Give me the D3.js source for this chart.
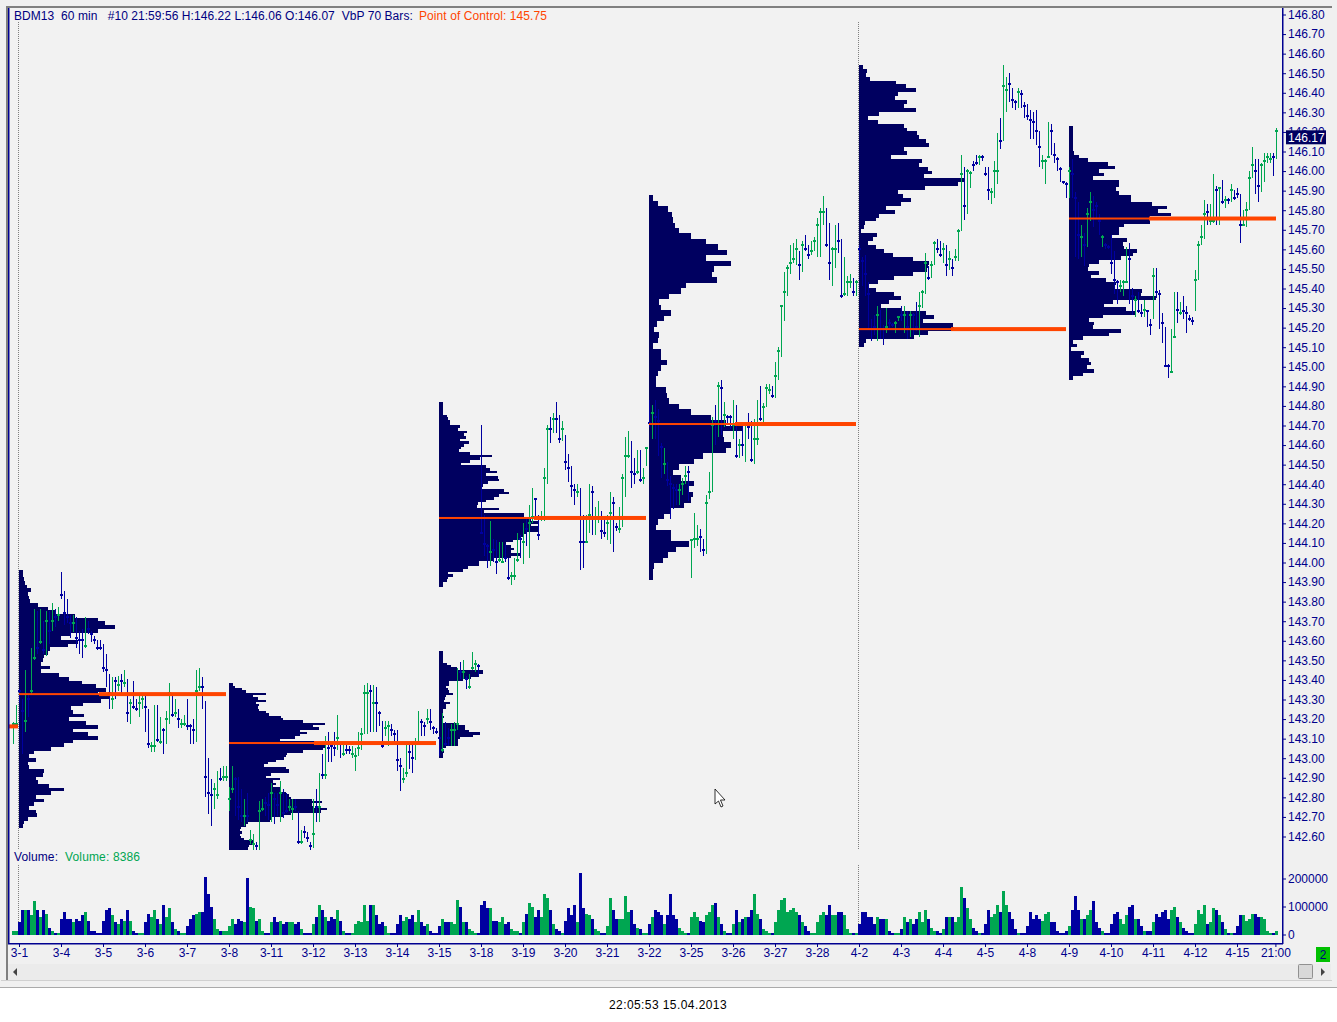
<!DOCTYPE html>
<html>
<head>
<meta charset="utf-8">
<script src="https://cdnjs.cloudflare.com/ajax/libs/d3/7.8.5/d3.min.js"></script>
<style>
body { margin: 0; background: #fff; }
text { font-family: "Liberation Sans", Arial, sans-serif; font-size: 12px; }
.axis text { fill: #00008c; }
.axis line { stroke: #00008c; }
.axis path { display: none; }
</style>
</head>
<body>
<script>
// Settings
var w = 1337;
var h = 1022;
var navy = "#000060";
var blue = "#0000a0";
var green = "#00a651";
var red = "#ff4500";

// one value per 60 min bar
var barHigh = [
143.18,143.27,143.35,143.30,143.45,143.32,143.56,143.76,143.75,143.76,
143.70,143.75,143.75,143.79,143.76,143.77,143.95,143.85,143.81,143.73,
143.73,143.72,143.65,143.66,143.72,143.70,143.65,143.62,143.60,143.60,
143.58,143.53,143.43,143.41,143.41,143.42,143.43,143.45,143.40,143.30,
143.39,143.30,143.32,143.33,143.33,143.25,143.08,143.27,143.27,143.21,
143.15,143.24,143.38,143.32,143.30,143.25,143.20,143.22,143.30,143.17,
143.20,143.45,143.46,143.41,143.29,143.00,142.89,142.87,142.93,142.95,
142.96,142.96,142.85,142.96,142.90,142.90,142.84,142.79,142.82,142.63,
142.61,142.57,142.78,142.79,142.80,142.82,142.87,142.82,142.82,142.88,
142.84,142.82,142.79,142.79,142.79,142.73,142.63,142.65,142.62,142.57,
142.79,142.84,142.92,143.02,143.11,143.13,143.08,143.13,143.22,143.08,
143.08,143.08,143.06,143.06,143.05,143.13,143.15,143.37,143.38,143.37,
143.37,143.36,143.24,143.19,143.19,143.19,143.17,143.14,143.14,143.00,
142.95,143.07,143.07,143.07,143.10,143.24,143.20,143.18,143.25,143.25,
143.16,143.15,143.11,143.23,143.18,143.15,143.17,143.18,143.46,143.49,
143.50,143.42,143.43,143.54,143.50,143.48,144.70,144.24,144.09,144.21,
144.12,144.11,144.10,144.10,144.09,144.02,143.95,144.02,144.15,144.14,
144.20,144.23,144.29,144.38,144.32,144.24,144.26,144.48,144.70,144.74,
144.76,144.82,144.75,144.72,144.65,144.55,144.49,144.40,144.40,144.38,
144.24,144.24,144.40,144.39,144.28,144.31,144.26,144.23,144.24,144.36,
144.33,144.20,144.28,144.45,144.64,144.67,144.62,144.53,144.57,144.57,
144.48,144.59,144.83,144.80,144.83,144.78,144.61,144.58,144.51,144.44,
144.40,144.40,144.40,144.43,144.49,144.49,144.12,144.25,144.19,144.17,
144.12,144.34,144.46,144.74,144.80,144.92,144.93,144.82,144.75,144.75,
144.83,144.80,144.63,144.70,144.71,144.76,144.72,144.73,144.83,144.90,
144.81,144.91,144.91,144.90,145.02,145.10,145.31,145.48,145.52,145.62,
145.63,145.65,145.59,145.64,145.67,145.62,145.64,145.66,145.76,145.81,
145.87,145.81,145.73,145.61,145.72,145.73,145.65,145.56,145.46,145.47,
145.45,145.44,145.62,145.56,145.57,145.43,145.24,145.26,145.31,145.29,
145.21,145.30,145.24,145.22,145.23,145.25,145.31,145.31,145.28,145.28,
145.27,145.33,145.38,145.39,145.58,145.51,145.54,145.64,145.65,145.64,
145.63,145.62,145.59,145.55,145.60,145.70,146.08,146.02,146.01,146.00,
146.05,146.08,146.08,146.08,146.02,146.02,145.91,146.05,146.19,146.27,
146.54,146.48,146.50,146.42,146.36,146.42,146.41,146.35,146.34,146.31,
146.30,146.31,146.20,146.08,146.06,146.25,146.24,146.14,146.07,146.02,
145.94,145.94,146.02,146.06,145.89,145.84,145.72,145.68,145.81,145.89,
145.87,145.84,145.78,145.67,145.63,145.62,145.67,145.59,145.44,145.44,
145.44,145.61,145.63,145.40,145.36,145.38,145.32,145.34,145.29,145.24,
145.50,145.50,145.39,145.27,145.20,145.01,145.19,145.38,145.38,145.33,
145.36,145.31,145.26,145.25,145.49,145.64,145.72,145.85,145.83,145.83,
145.98,145.92,145.91,145.95,145.87,145.86,145.93,145.90,145.91,145.88,
145.80,145.84,146.00,146.12,146.06,146.06,146.04,146.09,146.09,146.09,
146.09,146.22];

var barLow = [
143.07,143.16,143.28,143.02,143.13,143.21,143.32,143.50,143.53,143.58,
143.53,143.52,143.58,143.65,143.67,143.70,143.81,143.68,143.69,143.61,
143.64,143.56,143.53,143.51,143.56,143.63,143.59,143.58,143.55,143.55,
143.44,143.36,143.25,143.25,143.30,143.34,143.32,143.36,143.18,143.17,
143.25,143.24,143.21,143.25,143.13,143.05,143.03,143.03,143.08,143.07,
143.02,143.07,143.17,143.21,143.21,143.15,143.15,143.16,143.14,143.07,
143.07,143.08,143.34,143.25,142.80,142.71,142.65,142.74,142.79,142.88,
142.88,142.88,142.73,142.82,142.70,142.68,142.67,142.65,142.67,142.56,
142.53,142.53,142.53,142.73,142.70,142.68,142.67,142.66,142.70,142.67,
142.69,142.72,142.73,142.68,142.73,142.56,142.56,142.59,142.57,142.53,
142.54,142.67,142.67,142.89,142.89,142.98,142.98,143.01,143.04,143.00,
143.01,143.02,143.02,143.00,142.93,143.01,143.04,143.12,143.12,143.13,
143.13,143.13,143.16,143.05,143.11,143.06,143.11,143.07,142.93,142.83,
142.87,142.90,142.94,142.92,142.99,143.07,143.11,143.11,143.17,143.14,
143.12,143.12,143.01,143.03,143.06,143.06,143.06,143.06,143.14,143.40,
143.40,143.35,143.35,143.45,143.44,143.42,144.15,144.03,143.97,143.98,
144.00,143.94,144.00,144.00,144.00,143.91,143.88,143.91,144.00,144.02,
143.99,144.08,144.02,144.20,144.22,144.11,144.21,144.21,144.40,144.61,
144.66,144.66,144.61,144.62,144.47,144.41,144.33,144.29,144.33,143.96,
143.97,144.10,144.15,144.14,144.14,144.20,144.12,144.13,144.11,144.09,
144.05,144.16,144.15,144.18,144.33,144.53,144.38,144.40,144.45,144.41,
144.40,144.49,144.69,144.63,144.63,144.54,144.43,144.45,144.39,144.22,
144.27,144.29,144.29,144.34,144.40,144.31,143.92,144.07,144.08,144.05,
144.03,144.04,144.32,144.36,144.60,144.64,144.65,144.69,144.71,144.68,
144.63,144.53,144.53,144.54,144.51,144.63,144.51,144.50,144.60,144.72,
144.71,144.79,144.86,144.84,144.84,144.93,145.05,145.23,145.36,145.47,
145.53,145.52,145.44,145.48,145.59,145.55,145.57,145.59,145.56,145.56,
145.72,145.61,145.44,145.41,145.50,145.58,145.35,145.36,145.36,145.40,
145.36,145.36,145.53,145.41,145.36,145.19,145.13,145.16,145.13,145.14,
145.11,145.17,145.19,145.20,145.17,145.23,145.23,145.17,145.14,145.15,
145.16,145.18,145.15,145.30,145.37,145.44,145.45,145.52,145.58,145.56,
145.53,145.46,145.49,145.46,145.54,145.54,145.69,145.75,145.78,145.91,
146.00,146.03,146.03,146.05,145.97,145.85,145.83,145.86,145.93,146.11,
146.15,146.30,146.35,146.32,146.31,146.32,146.32,146.27,146.26,146.16,
146.16,146.13,146.02,146.01,145.93,146.07,146.08,146.04,146.00,145.94,
145.93,145.86,145.86,145.86,145.56,145.55,145.56,145.51,145.61,145.74,
145.71,145.76,145.67,145.61,145.60,145.60,145.47,145.37,145.32,145.38,
145.36,145.43,145.32,145.26,145.25,145.27,145.25,145.25,145.20,145.16,
145.24,145.35,145.19,145.12,145.00,144.94,144.97,145.15,145.22,145.26,
145.24,145.17,145.23,145.21,145.28,145.44,145.62,145.65,145.72,145.72,
145.73,145.72,145.72,145.83,145.81,145.83,145.84,145.85,145.86,145.63,
145.72,145.71,145.80,145.96,145.88,145.84,145.89,145.94,146.04,146.04,
145.97,146.06];

var barClose = [
143.17,143.17,143.34,143.24,143.19,143.30,143.34,143.51,143.56,143.59,
143.55,143.70,143.65,143.70,143.72,143.73,143.83,143.74,143.72,143.69,
143.69,143.61,143.60,143.60,143.57,143.66,143.63,143.60,143.56,143.56,
143.46,143.45,143.33,143.30,143.39,143.37,143.39,143.38,143.23,143.28,
143.26,143.25,143.28,143.30,143.26,143.07,143.06,143.06,143.09,143.08,
143.14,143.20,143.33,143.22,143.23,143.20,143.17,143.17,143.16,143.16,
143.14,143.34,143.36,143.36,142.90,142.82,142.81,142.84,142.81,142.89,
142.90,142.90,142.79,142.84,142.89,142.75,142.70,142.70,142.70,142.58,
142.56,142.55,142.73,142.74,142.77,142.76,142.82,142.79,142.76,142.82,
142.72,142.73,142.75,142.74,142.75,142.57,142.57,142.62,142.59,142.55,
142.61,142.75,142.75,142.91,142.91,143.05,143.06,143.05,143.10,143.07,
143.02,143.04,143.04,143.02,143.01,143.05,143.12,143.33,143.33,143.34,
143.28,143.28,143.23,143.06,143.15,143.16,143.14,143.12,142.99,142.96,
142.89,142.92,143.03,143.00,143.07,143.08,143.18,143.16,143.20,143.18,
143.15,143.13,143.10,143.04,143.07,143.10,143.14,143.14,143.17,143.44,
143.44,143.40,143.36,143.46,143.48,143.47,144.15,144.09,144.08,144.05,
144.06,144.00,144.01,144.00,144.02,143.92,143.93,143.93,144.01,144.12,
144.10,144.17,144.20,144.23,144.32,144.14,144.23,144.43,144.68,144.68,
144.73,144.73,144.63,144.68,144.51,144.48,144.39,144.37,144.36,144.10,
144.10,144.10,144.24,144.36,144.23,144.23,144.16,144.15,144.20,144.25,
144.30,144.18,144.17,144.43,144.54,144.54,144.46,144.45,144.46,144.42,
144.43,144.58,144.71,144.76,144.74,144.72,144.59,144.50,144.42,144.40,
144.38,144.37,144.37,144.40,144.44,144.46,144.11,144.12,144.12,144.13,
144.06,144.30,144.36,144.70,144.72,144.90,144.89,144.75,144.74,144.74,
144.70,144.54,144.60,144.60,144.70,144.69,144.52,144.63,144.63,144.73,
144.79,144.89,144.88,144.85,144.95,145.08,145.31,145.38,145.50,145.53,
145.55,145.60,145.52,145.62,145.60,145.57,145.59,145.64,145.72,145.79,
145.79,145.62,145.53,145.60,145.60,145.64,145.36,145.37,145.43,145.43,
145.38,145.43,145.60,145.54,145.47,145.37,145.19,145.20,145.26,145.19,
145.19,145.20,145.22,145.21,145.22,145.25,145.26,145.26,145.20,145.26,
145.26,145.20,145.31,145.38,145.53,145.45,145.52,145.63,145.60,145.57,
145.60,145.52,145.55,145.50,145.56,145.69,145.98,145.82,146.00,145.99,
146.03,146.04,146.07,146.07,145.98,145.90,145.89,146.00,146.00,146.15,
146.43,146.41,146.44,146.36,146.35,146.40,146.39,146.33,146.28,146.26,
146.25,146.20,146.12,146.05,146.05,146.07,146.20,146.08,146.06,146.01,
145.94,145.93,146.00,145.98,145.86,145.67,145.66,145.62,145.78,145.84,
145.80,145.82,145.74,145.66,145.62,145.61,145.53,145.44,145.43,145.41,
145.43,145.43,145.55,145.36,145.34,145.28,145.27,145.29,145.28,145.21,
145.46,145.38,145.37,145.22,145.00,145.00,144.97,145.15,145.29,145.27,
145.28,145.27,145.24,145.23,145.44,145.62,145.66,145.78,145.79,145.74,
145.74,145.90,145.91,145.84,145.85,145.85,145.90,145.86,145.88,145.72,
145.72,145.80,145.96,146.03,146.00,145.92,146.03,146.05,146.07,146.06,
146.07,146.20];

// 1 = up bar (green), 0 = down bar (blue)
var barUp = [
1,1,0,0,1,0,1,1,0,1, 0,1,0,1,0,1,0,0,0,0, 1,0,0,0,1,0,0,0,0,0,
0,0,0,1,0,1,0,1,0,1, 0,0,1,1,0,0,1,1,0,1, 0,1,1,0,1,0,1,1,0,0,
0,1,1,0,0,0,0,1,1,0, 1,1,1,1,0,0,0,1,0,1, 1,0,1,1,0,0,1,0,0,1,
0,0,1,1,0,0,1,0,0,0, 1,0,1,0,1,0,0,0,1,0, 1,0,0,1,1,1,1,1,1,0,
1,0,0,0,1,1,0,0,0,0, 1,1,0,0,1,1,0,0,1,0, 0,0,0,1,0,0,1,1,1,0,
1,0,1,1,1,0,0,0,0,1, 0,0,1,1,0,0,1,1,1,0, 1,0,1,1,0,0,1,1,1,0,
1,0,0,1,0,0,0,0,1,0, 0,1,1,0,1,1,0,0,1,1, 0,0,1,1,1,1,0,0,1,0,
1,1,0,1,0,0,0,1,0,0, 0,0,1,1,1,0,1,1,1,0, 0,1,1,1,0,1,0,1,0,0,
1,0,1,0,1,0,0,1,1,0, 1,1,1,0,1,1,1,1,1,1, 1,1,0,1,0,0,1,1,1,1,
1,0,0,1,1,0,0,1,1,1, 0,1,0,0,0,0,0,0,1,0, 0,1,0,0,1,1,0,1,0,1,
0,0,1,1,1,0,1,1,0,0, 1,0,1,0,1,1,1,0,1,1, 0,0,1,0,0,0,1,1,1,0,
1,1,0,0,0,1,0,0,0,0, 0,0,0,1,1,1,0,0,0,0, 0,0,1,0,0,0,1,0,1,1,
0,0,0,1,0,0,0,0,0,1, 1,1,0,0,1,0,0,1,0,0, 1,0,0,0,0,0,1,1,0,1,
0,0,0,0,1,1,1,1,0,1, 1,0,1,0,1,0,1,0,0,0, 1,1,1,1,0,0,1,1,1,1,
0,1];

// volume in thousands
var barVolume = [
14,11,43,89,86,89,68,118,86,61, 86,75,25,11,7,7,54,82,57,57,
43,57,50,71,79,50,14,11,7,7, 50,89,96,71,46,36,57,50,86,50,
14,7,7,7,43,75,64,86,54,36, 107,64,96,43,18,11,7,7,32,57,
71,75,79,82,207,143,100,54,21,11, 11,11,32,54,36,57,50,46,203,100,
96,50,54,11,7,7,43,61,43,50, 36,43,43,46,36,43,18,7,7,7,
39,64,104,86,61,50,61,54,89,50, 14,7,7,7,36,50,43,104,50,104,
104,68,39,46,29,7,7,7,39,71, 50,64,54,68,46,86,43,32,36,11,
7,7,29,54,43,43,46,39,125,100, 46,46,18,11,7,7,104,121,93,96,
50,50,43,61,39,43,18,11,11,7, 46,75,114,100,61,86,64,146,132,86,
39,18,14,7,50,93,71,107,46,221, 96,75,71,57,18,14,7,7,32,132,
89,57,57,57,136,79,89,36,25,18, 7,7,36,61,86,79,68,36,68,146,
71,57,25,11,7,7,61,79,64,50, 43,68,79,107,114,61,39,11,7,7,
39,89,46,57,61,64,89,143,75,57, 21,14,7,7,43,86,125,132,79,86,
93,82,71,46,29,11,7,7,43,71, 82,71,104,71,71,82,82,68,18,7,
7,7,36,79,79,64,64,36,61,57, 54,54,14,7,7,7,21,61,43,57,
36,57,82,46,89,54,25,14,11,7, 21,64,61,61,43,61,168,132,93,57,
25,11,7,7,36,89,61,75,104,79, 154,107,82,54,18,7,7,7,32,82,
57,71,54,50,75,79,46,43,14,7, 7,11,29,89,139,89,54,57,71,86,
118,43,25,11,7,7,39,75,79,57, 39,71,100,104,57,54,32,11,11,11,
46,75,64,82,86,57,86,100,64,43, 25,14,7,7,36,86,75,104,36,43,
93,89,71,46,18,7,7,7,29,71, 71,50,57,75,75,64,61,54,14,7,
7,14];

// volume by price rows, top row first
var profile1 = [3,3,4,5,7,11,8,9,10,18, 28,35,55,78,85,95,78,51,41,58, 48,30,28,24,23,21,30,21,39,49,
  62,76,86,78,89,81,63,51,53,64, 49,66,78,53,68,78,53,44,31,14, 9,16,8,9,24,23,16,18,29, 44,31,16,24,14,9,16,17,8,4,3];
var profile2 = [3,5,12,16,36,23,28,36,26,29, 28,29,36,39,51,53,73,95,83,89, 70,77,70,65,50,85,96,96,93,73,
  57,56,54,46,38,34,56,59,59,41, 36,50,43,46,43,51,51,56,59,61, 82,92,82,83,97,91,61,53,41,40, 18,16,11,10,12,10,11,14,23,23,19,18];
var profile3 = [3,3,3,3,3,7,11,17,43,43,39,31,23,9,9,6,8,9,13,6,5,4,10,6,6,3,3,3,4,3,3,16,25,25,29,40,33,20,18,18,18,6,3,4,3,3];
var profile4 = [3,3,3,3,3,7,8,10,10,20, 18,27,24,26,20,29,24,21,19,30, 52,40,30,21,46,50,57,46,58,59,
  48,43,41,64,69,59,54,46,38,37, 59,44,84,84,91,99,91,99,98,86, 84,81,73,66,71,74,71,81,71,54, 39,39,28,23,8,13,8,7,3,3];
var profile5 = [3,8,18,22,23,25,29,41,56,68, 77,56,81,64,62,67,36,31,19,9, 11,21,14,7,4,9,8,3,11,11,
  17,11,8,6,6,16,17,19,29,41, 61,76,93,73,74,81,76,53,44,29, 23,31,44,39,43,41,34,21,14,8, 6,21,21,39,26,18,13,4,3,3];
var profile6 = [3,7,6,10,36,46,56,38,35,47, 44,56,19,8,18,44,47,57,59,66, 69,44,47,31,62,59,68,72,64,104,
  98,65,38,43,51,41,26,35,19,16, 5,4,1,17,13,8,16,24,33,53, 69,68,67,53,34,18,9,16,34,41, 29,21,41,66,74,63,93,94,68,54, 6,4];
var profile7 = [3,3,3,3,3,3,3,4,9,18, 38,45,29,34,23,49,49,46,49,61, 61,82,97,88,101,80,80,54,49,49,
  41,57,53,54,67,63,51,29,19,18, 29,21,36,46,44,72,71,86,43,34, 56,66,33,19,24,23,51,39,13,3, 7,1,14,11,19,21,17,24,13,3];
var profiles = [profile1, profile2, profile3, profile4, profile5, profile6, profile7];
var profileStart = [2, 72, 142, 142, 212, 282, 352];
var profileTop = [143.96, 143.38, 143.545, 144.82, 145.875, 146.54, 146.23];
var profileBottom = [142.64, 142.53, 143.00, 143.87, 143.91, 145.10, 144.93];

// point of control of each profile
var pocStart = [2, 72, 142, 212, 282, 352];
var pocPrice = [143.325, 143.075, 144.225, 144.705, 145.19, 145.755];
var pocVolume = [80, 85, 95, 86, 92, 80];
var pocBars = 69;
var prevPocPrice = 143.16;

var priceTicks = [146.8,146.7,146.6,146.5,146.4,146.3,146.2,146.1,146.0,145.9,145.8,145.7,145.6,145.5,145.4,145.3,145.2,145.1,145.0,
  144.9,144.8,144.7,144.6,144.5,144.4,144.3,144.2,144.1,144.0,143.9,143.8,143.7,143.6,143.5,143.4,143.3,143.2,143.1,143.0,142.9,142.8,142.7,142.6];
var volumeTicks = [0, 100000, 200000];
var dayLabels = ["3-1","3-4","3-5","3-6","3-7","3-8","3-11","3-12","3-13","3-14","3-15","3-18","3-19","3-20","3-21","3-22","3-25","3-26","3-27","3-28",
  "4-2","4-3","4-4","4-5","4-8","4-9","4-10","4-11","4-12","4-15","21:00"];
var dayBars = [2,16,30,44,58,72,86,100,114,128,142,156,170,184,198,212,226,240,254,268,282,296,310,324,338,352,366,380,394,408,420.8];
var dividerBars = [2, 282];
var lastPrice = 146.17;

var xScale = d3.scaleLinear().domain([0, 421]).range([13.5, 1276.5]);
var yScale = d3.scaleLinear().domain([142.6, 146.8]).range([836, 14]);
var vScale = d3.scaleLinear().domain([0, 200000]).range([934.5, 878.5]);
var rowScale = d3.scaleLinear().domain([0, 100]).range([0, 100]);

var svg = d3.select("body").append("svg")
	.attr("width", w)
	.attr("height", h)
	.style("display", "block");

// window frame
svg.append("rect").attr("width", w).attr("height", 987).attr("fill", "#f0f0f0");
svg.append("rect").attr("y", 987).attr("width", w).attr("height", 1).attr("fill", "#aaaaaa");
svg.append("rect").attr("x", 6).attr("y", 6).attr("width", 1326).attr("height", 2).attr("fill", "#808080");
svg.append("rect").attr("x", 6).attr("y", 6).attr("width", 2).attr("height", 974).attr("fill", "#808080");
svg.append("rect").attr("x", 1).attr("y", 980).attr("width", 1331).attr("height", 1).attr("fill", "#d0d0d0");
svg.append("rect").attr("x", 8).attr("y", 8).attr("width", 1274).attr("height", 935).attr("fill", "#f2f2f2");

// dotted session dividers
dividerBars.forEach(function(k) {
	var x = Math.floor(xScale(k)) - 0.5;
	[[22, 849], [865, 935]].forEach(function(seg) {
		svg.append("line")
			.attr("x1", x).attr("x2", x)
			.attr("y1", seg[0]).attr("y2", seg[1])
			.attr("stroke", "#808080")
			.attr("stroke-dasharray", "1,1");
	});
});

// volume profiles
profiles.forEach(function(rows, p) {
	var left = xScale(profileStart[p]) - 0.5;
	var rowY = d3.scaleLinear()
		.domain([0, rows.length])
		.range([yScale(profileTop[p]), yScale(profileBottom[p])]);
	svg.append("g").selectAll("rect")
		.data(rows)
		.enter()
		.append("rect")
		.attr("x", left)
		.attr("y", function(d, i) { return Math.round(rowY(i)); })
		.attr("width", function(d) { return rowScale(d) + 1; })
		.attr("height", function(d, i) { return Math.max(1, Math.round(rowY(i + 1)) - Math.round(rowY(i))); })
		.attr("fill", navy)
		.attr("shape-rendering", "crispEdges");
});

var barIndex = d3.range(barHigh.length);

// price bars
svg.append("g").selectAll("rect")
	.data(barIndex)
	.enter()
	.append("rect")
	.attr("x", function(k) { return Math.floor(xScale(k)); })
	.attr("y", function(k) { return yScale(barHigh[k]); })
	.attr("width", 1)
	.attr("height", function(k) { return yScale(barLow[k]) - yScale(barHigh[k]); })
	.attr("fill", function(k) { return barUp[k] ? green : blue; })
	.attr("shape-rendering", "crispEdges");

svg.append("g").selectAll("rect")
	.data(barIndex)
	.enter()
	.append("rect")
	.attr("x", function(k) { return Math.floor(xScale(k)) - 1; })
	.attr("y", function(k) { return yScale(barClose[k]) - 1; })
	.attr("width", 3)
	.attr("height", 2)
	.attr("fill", function(k) { return barUp[k] ? green : blue; })
	.attr("shape-rendering", "crispEdges");

// point of control lines, thin where they run over the profile
pocPrice.forEach(function(price, p) {
	var left = xScale(pocStart[p]) - 0.5;
	var right = xScale(pocStart[p] + pocBars) - 0.5;
	var y = yScale(price);
	svg.append("rect").attr("x", left).attr("y", y - 1).attr("width", rowScale(pocVolume[p])).attr("height", 2).attr("fill", red);
	svg.append("rect").attr("x", left + rowScale(pocVolume[p])).attr("y", y - 2).attr("width", right - left - rowScale(pocVolume[p])).attr("height", 4).attr("fill", red);
});
svg.append("rect")
	.attr("x", 9).attr("y", yScale(prevPocPrice) - 2)
	.attr("width", xScale(1) - 9 + 1.5).attr("height", 4)
	.attr("fill", red);

// volume bars
svg.append("g").selectAll("rect")
	.data(barIndex)
	.enter()
	.append("rect")
	.attr("x", function(k) { return xScale(k) - 1.5; })
	.attr("y", function(k) { return vScale(barVolume[k] * 1000); })
	.attr("width", 3)
	.attr("height", function(k) { return vScale(0) - vScale(barVolume[k] * 1000); })
	.attr("fill", function(k) { return barUp[k] ? green : blue; })
	.attr("shape-rendering", "crispEdges");

// axes
var yAxis = d3.axisRight(yScale)
	.tickValues(priceTicks)
	.tickFormat(d3.format(".2f"))
	.tickSize(4)
	.tickPadding(2);
svg.append("g").attr("class", "axis").attr("transform", "translate(1282,0.5)").call(yAxis);

var vAxis = d3.axisRight(vScale)
	.tickValues(volumeTicks)
	.tickFormat(d3.format("d"))
	.tickSize(4)
	.tickPadding(2);
svg.append("g").attr("class", "axis").attr("transform", "translate(1282,0)").call(vAxis);

var xAxis = d3.axisBottom(xScale)
	.tickValues(dayBars)
	.tickFormat(function(d, i) { return dayLabels[i]; })
	.tickSize(4)
	.tickPadding(1);
svg.append("g").attr("class", "axis").attr("transform", "translate(-0.5,943)").call(xAxis);

svg.append("rect").attr("x", 8).attr("y", 8).attr("width", 1.5).attr("height", 936).attr("fill", "#000090");
svg.append("rect").attr("x", 1282).attr("y", 8).attr("width", 1.5).attr("height", 936).attr("fill", "#000090");
svg.append("rect").attr("x", 8).attr("y", 943).attr("width", 1275).attr("height", 1.5).attr("fill", "#000090");

// last price box
svg.append("rect").attr("x", 1286).attr("y", yScale(lastPrice) - 7).attr("width", 40).attr("height", 14).attr("fill", navy);
svg.append("text").attr("x", 1288).attr("y", yScale(lastPrice) + 4.5).attr("fill", "#ffffff").text(d3.format(".2f")(lastPrice));

// header and pane titles
svg.append("text").attr("x", 14).attr("y", 20).attr("fill", "#000080").style("white-space", "pre").style("letter-spacing", "0.06px")
	.text("BDM13  60 min   #10 21:59:56 H:146.22 L:146.06 O:146.07  VbP 70 Bars:");
svg.append("text").attr("x", 419).attr("y", 20).attr("fill", red).style("letter-spacing", "0.08px").text("Point of Control: 145.75");
svg.append("text").attr("x", 14).attr("y", 861).attr("fill", "#000080").style("letter-spacing", "0.1px").text("Volume:");
svg.append("text").attr("x", 65).attr("y", 861).attr("fill", green).style("letter-spacing", "0.15px").text("Volume: 8386");

// scrollbar
svg.append("rect").attr("x", 8).attr("y", 964).attr("width", 1323).attr("height", 16).attr("fill", "#ebebeb");
svg.append("path").attr("d", "M17,968 L13,972 L17,976 Z").attr("fill", "#444444");
svg.append("path").attr("d", "M1321,968 L1325,972 L1321,976 Z").attr("fill", "#444444");
svg.append("rect").attr("x", 1298.5).attr("y", 964.5).attr("width", 14).attr("height", 14).attr("rx", 1).attr("fill", "#d8d8d8").attr("stroke", "#909090");

// page counter box
svg.append("rect").attr("x", 1316).attr("y", 947).attr("width", 14).attr("height", 15).attr("fill", "#00c000");
svg.append("text").attr("x", 1323).attr("y", 959).attr("text-anchor", "middle").attr("fill", "#000080").text("2");

// clock
svg.append("text").attr("x", 668).attr("y", 1009).attr("text-anchor", "middle").attr("fill", "#000000").style("letter-spacing", "0.42px").text("22:05:53 15.04.2013");

// cursor left on the screen
svg.append("path")
	.attr("d", "M715,789 L715,804 L718.5,801 L721,807 L723,806 L720.5,800 L725,800 Z")
	.attr("fill", "#ffffff")
	.attr("stroke", "#000000")
	.attr("stroke-width", 0.8);
</script>
</body>
</html>
